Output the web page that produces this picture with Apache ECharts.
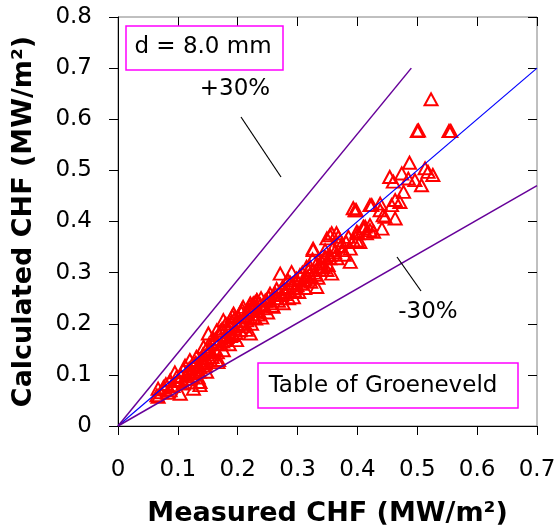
<!DOCTYPE html>
<html>
<head>
<meta charset="utf-8">
<script src="https://cdn.jsdelivr.net/npm/echarts@6/dist/echarts.min.js"></script>
<style>
  html, body { margin: 0; padding: 0; background: #fff; }
  #chf-chart { width: 559px; height: 529px; }
</style>
</head>
<body>
<div id="chf-chart"></div>
<script>
var measured = [
  0.065, 0.067, 0.067, 0.076, 0.087, 0.087, 0.098, 0.104, 0.109, 0.109,
  0.120, 0.126, 0.126, 0.131, 0.137, 0.137, 0.137, 0.143, 0.148, 0.151,
  0.154, 0.165, 0.165, 0.167, 0.168, 0.176, 0.176, 0.182, 0.187, 0.193,
  0.198, 0.201, 0.204, 0.209, 0.215, 0.221, 0.221, 0.226, 0.232,
  0.072, 0.080, 0.083, 0.092, 0.095, 0.100, 0.105, 0.112, 0.115, 0.118,
  0.122, 0.128, 0.132, 0.134, 0.140, 0.142, 0.145, 0.147, 0.152, 0.155,
  0.158, 0.160, 0.162, 0.170, 0.172, 0.174, 0.178, 0.180, 0.184, 0.186,
  0.190, 0.192, 0.195, 0.196, 0.200, 0.206, 0.208, 0.212, 0.214, 0.218,
  0.223, 0.228, 0.230, 0.235, 0.238, 0.240, 0.243, 0.246, 0.250,
  0.078, 0.090, 0.102, 0.114, 0.119, 0.124, 0.130, 0.136, 0.141, 0.146,
  0.150, 0.157, 0.163, 0.166, 0.171, 0.175, 0.181, 0.188, 0.191, 0.197,
  0.203, 0.207, 0.211, 0.217, 0.220, 0.225, 0.229, 0.234, 0.239, 0.244,
  0.226, 0.232, 0.248, 0.254, 0.259, 0.271, 0.273, 0.276, 0.282, 0.290,
  0.293, 0.299, 0.304, 0.310, 0.315, 0.318, 0.321, 0.326, 0.326, 0.332,
  0.332, 0.337, 0.337, 0.346, 0.349, 0.349, 0.354, 0.354, 0.354, 0.357,
  0.357, 0.360, 0.365, 0.368, 0.371, 0.376, 0.385, 0.388, 0.388,
  0.255, 0.262, 0.265, 0.268, 0.278, 0.285, 0.288, 0.295, 0.298, 0.302,
  0.306, 0.312, 0.316, 0.322, 0.328, 0.334, 0.340, 0.343, 0.347, 0.351,
  0.362, 0.366, 0.372, 0.378, 0.381,
  0.252, 0.258, 0.263, 0.270, 0.275, 0.280, 0.284, 0.291, 0.296, 0.308,
  0.313, 0.320, 0.325, 0.330, 0.339, 0.345,
  0.393, 0.393, 0.396, 0.398, 0.399, 0.399, 0.401, 0.404, 0.410, 0.410,
  0.413, 0.415, 0.421, 0.421, 0.421, 0.424, 0.427, 0.438, 0.438, 0.441,
  0.443, 0.446, 0.454, 0.457, 0.460, 0.463, 0.463, 0.471, 0.474, 0.477,
  0.485, 0.487, 0.496, 0.507, 0.513, 0.518, 0.526,
  0.500, 0.502, 0.553, 0.556, 0.523
]
var calculated = [
  0.060, 0.057, 0.073, 0.076, 0.070, 0.089, 0.096, 0.063, 0.083, 0.109,
  0.129, 0.103, 0.073, 0.135, 0.115, 0.080, 0.086, 0.155, 0.106, 0.181,
  0.148, 0.187, 0.161, 0.125, 0.129, 0.207, 0.148, 0.174, 0.194, 0.220,
  0.168, 0.213, 0.187, 0.233, 0.207, 0.240, 0.181, 0.213, 0.246,
  0.066, 0.082, 0.065, 0.078, 0.105, 0.090, 0.098, 0.118, 0.092, 0.106,
  0.085, 0.120, 0.110, 0.095, 0.125, 0.140, 0.118, 0.132, 0.160, 0.128,
  0.140, 0.170, 0.150, 0.178, 0.160, 0.190, 0.168, 0.200, 0.185, 0.160,
  0.205, 0.178, 0.190, 0.212, 0.198, 0.222, 0.195, 0.215, 0.188, 0.228,
  0.200, 0.232, 0.210, 0.225, 0.238, 0.212, 0.230, 0.245, 0.222,
  0.072, 0.080, 0.088, 0.100, 0.112, 0.097, 0.124, 0.106, 0.133, 0.122,
  0.145, 0.135, 0.170, 0.144, 0.186, 0.165, 0.192, 0.176, 0.215, 0.182,
  0.205, 0.228, 0.200, 0.220, 0.235, 0.226, 0.242, 0.218, 0.250, 0.236,
  0.240, 0.246, 0.246, 0.259, 0.233, 0.298, 0.256, 0.240, 0.269, 0.301,
  0.252, 0.275, 0.295, 0.285, 0.311, 0.305, 0.311, 0.344, 0.347, 0.272,
  0.318, 0.318, 0.305, 0.344, 0.367, 0.305, 0.328, 0.334, 0.373, 0.377,
  0.298, 0.350, 0.377, 0.370, 0.363, 0.344, 0.370, 0.321, 0.347,
  0.240, 0.250, 0.268, 0.245, 0.262, 0.250, 0.280, 0.265, 0.288, 0.262,
  0.278, 0.270, 0.292, 0.282, 0.300, 0.290, 0.322, 0.310, 0.330, 0.315,
  0.340, 0.328, 0.352, 0.335, 0.360,
  0.252, 0.235, 0.258, 0.262, 0.272, 0.258, 0.285, 0.278, 0.270, 0.300,
  0.286, 0.296, 0.326, 0.296, 0.312, 0.330,
  0.363, 0.426, 0.422, 0.422, 0.380, 0.363, 0.377, 0.360, 0.386, 0.390,
  0.390, 0.377, 0.393, 0.383, 0.432, 0.432, 0.380, 0.422, 0.435, 0.386,
  0.412, 0.409, 0.487, 0.432, 0.478, 0.442, 0.406, 0.438, 0.494, 0.458,
  0.484, 0.515, 0.481, 0.471, 0.504, 0.497, 0.491,
  0.577, 0.578, 0.577, 0.577, 0.639
]

// 参考线端点
var perfectLine = [[0, 0], [0.7, 0.7]]
var plusLine = [[0, 0], [0.49, 0.7]]
var minusLine = [[0, 0], [0.7, 0.47]]

// 坐标轴
var xMax = 0.7
var yMax = 0.8
var tickStep = 0.1

var points = measured.map(function (m, i) { return [m, calculated[i]] })

var font = 'DejaVu Sans'
var purple = '#660099'

function baseAxis (max, inside) {
  return {
    type: 'value',
    min: 0,
    max: max,
    interval: tickStep,
    splitLine: { show: false },
    axisLine: { show: !inside, onZero: false, lineStyle: { color: '#000', width: 1 } },
    axisTick: { show: true, inside: inside, length: 9, lineStyle: { color: '#000', width: 1 } },
    axisLabel: { show: !inside, color: '#000', fontSize: 23, fontFamily: font }
  }
}

var xMain = baseAxis(xMax, false)
xMain.name = 'Measured CHF (MW/m²)'
xMain.nameLocation = 'middle'
xMain.nameGap = 74
xMain.nameTextStyle = { color: '#000', fontSize: 27, fontWeight: 'bold', fontFamily: font }
xMain.axisLabel.margin = 33

var yMain = baseAxis(yMax, false)
yMain.name = 'Calculated CHF (MW/m²)'
yMain.nameLocation = 'middle'
yMain.nameGap = 81
yMain.nameTextStyle = { color: '#000', fontSize: 27, fontWeight: 'bold', fontFamily: font }
yMain.axisLabel.margin = 26

var option = {
  animation: false,
  backgroundColor: '#fff',
  grid: {
    left: 118, right: 22, top: 17, bottom: 103,
    outerBoundsMode: 'none',
    show: true, borderColor: '#808080', borderWidth: 1
  },
  xAxis: [xMain, baseAxis(xMax, true)],
  yAxis: [yMain, baseAxis(yMax, true)],
  series: [
    {
      type: 'scatter',
      data: points,
      symbol: 'triangle',
      symbolSize: [13, 12],
      itemStyle: { color: 'rgba(0,0,0,0)', borderColor: '#ff0000', borderWidth: 2, opacity: 1 },
      z: 2
    },
    {
      type: 'line', data: perfectLine, showSymbol: false,
      lineStyle: { color: '#0000ff', width: 1.2 }, z: 3
    },
    {
      type: 'line', data: plusLine, showSymbol: false,
      lineStyle: { color: purple, width: 1.5 }, z: 3
    },
    {
      type: 'line', data: minusLine, showSymbol: false,
      lineStyle: { color: purple, width: 1.5 }, z: 3
    }
  ],
  graphic: [
    // d = 8.0 mm 标注框
    { type: 'rect', shape: { x: 126, y: 26, width: 157, height: 44 },
      style: { fill: '#fff', stroke: '#ff00ff', lineWidth: 1.5 }, z: 10 },
    { type: 'text', x: 203, y: 47,
      style: { text: 'd = 8.0 mm', font: '23px "DejaVu Sans"', fill: '#000', align: 'center', verticalAlign: 'middle' }, z: 11 },
    // Table of Groeneveld 标注框
    { type: 'rect', shape: { x: 258, y: 363, width: 260, height: 45 },
      style: { fill: '#fff', stroke: '#ff00ff', lineWidth: 1.5 }, z: 10 },
    { type: 'text', x: 383, y: 386,
      style: { text: 'Table of Groeneveld', font: '23px "DejaVu Sans"', fill: '#000', align: 'center', verticalAlign: 'middle' }, z: 11 },
    // +30% / -30% 指示
    { type: 'text', x: 235, y: 89,
      style: { text: '+30%', font: '23px "DejaVu Sans"', fill: '#000', align: 'center', verticalAlign: 'middle' }, z: 11 },
    { type: 'line', shape: { x1: 241, y1: 117, x2: 281, y2: 177 },
      style: { stroke: '#000', lineWidth: 1.2 }, z: 11 },
    { type: 'text', x: 428, y: 312,
      style: { text: '-30%', font: '23px "DejaVu Sans"', fill: '#000', align: 'center', verticalAlign: 'middle' }, z: 11 },
    { type: 'line', shape: { x1: 397, y1: 257, x2: 421, y2: 291 },
      style: { stroke: '#000', lineWidth: 1.2 }, z: 11 }
  ]
}

var chart = echarts.init(document.getElementById('chf-chart'))
chart.setOption(option)
</script>
</body>
</html>
